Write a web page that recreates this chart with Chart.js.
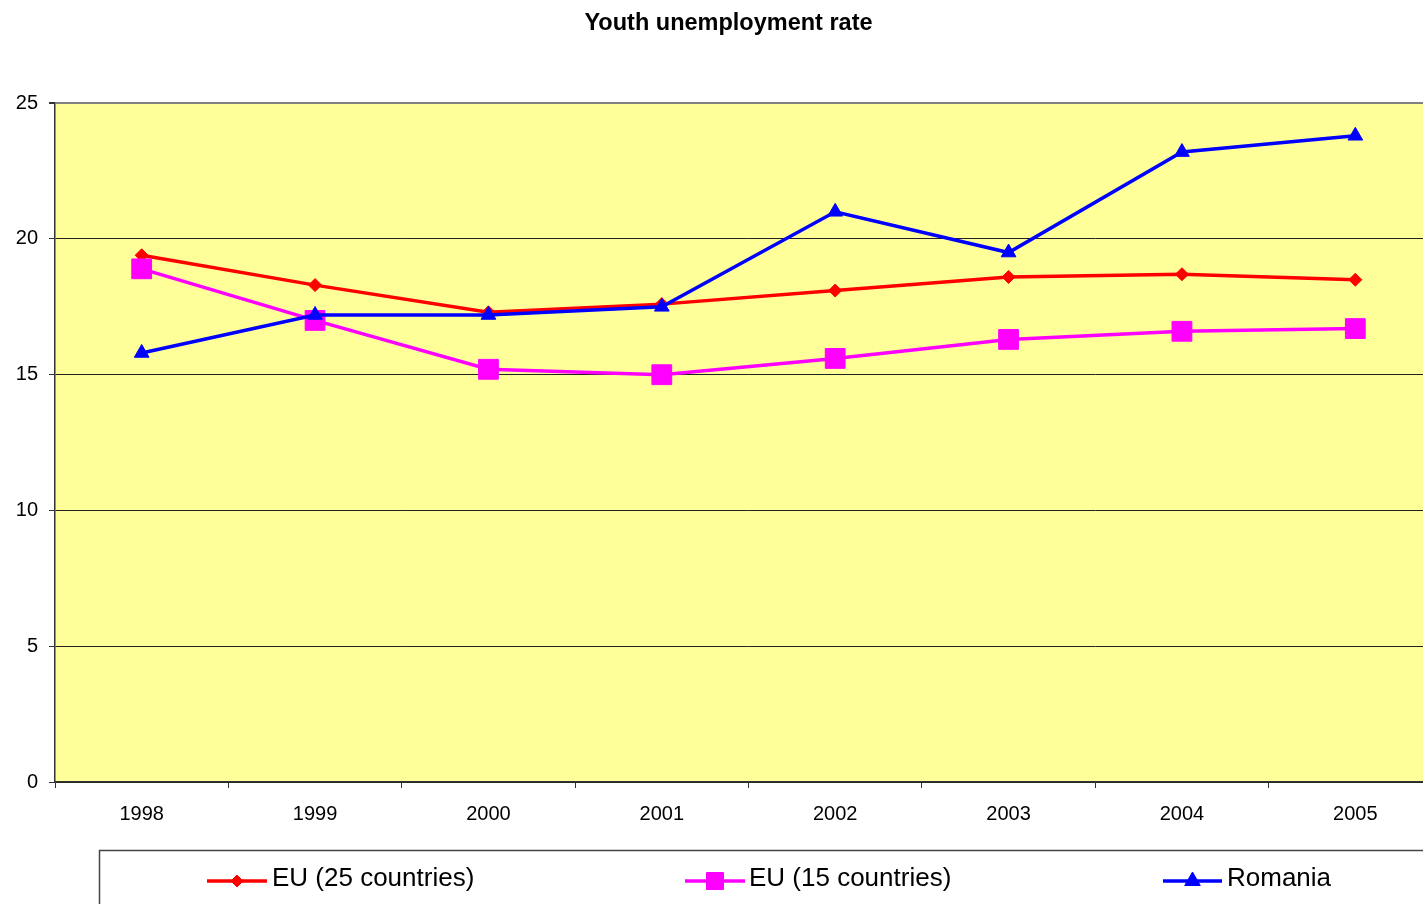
<!DOCTYPE html>
<html>
<head>
<meta charset="utf-8">
<script src="https://cdn.jsdelivr.net/npm/chart.js@4"></script>
<style>
  html, body { margin: 0; padding: 0; background: #fff; overflow: hidden; }
  #wrap { width: 1457px; height: 904px; }
</style>
</head>
<body>
<div id="wrap"><canvas id="c" width="1457" height="904"></canvas></div>
<script>
const titleText = 'Youth unemployment rate';
const years = ['1998', '1999', '2000', '2001', '2002', '2003', '2004', '2005'];
const eu25 = [19.4, 18.3, 17.3, 17.6, 18.1, 18.6, 18.7, 18.5];
const eu15 = [18.9, 17.0, 15.2, 15.0, 15.6, 16.3, 16.6, 16.7];
const romania = [15.8, 17.2, 17.2, 17.5, 21.0, 19.5, 23.2, 23.8];
const seriesNames = ['EU (25 countries)', 'EU (15 countries)', 'Romania'];
const yTicks = [0, 5, 10, 15, 20, 25];

const FONT = '"Liberation Sans", Arial, sans-serif';

const plotBg = {
  id: 'plotBg',
  beforeDraw(chart) {
    const { ctx, chartArea: a } = chart;
    ctx.save();
    ctx.fillStyle = '#FFFF99';
    ctx.fillRect(a.left, a.top, a.right - a.left, a.bottom - a.top);
    ctx.restore();
  }
};

const boxLegend = {
  id: 'boxLegend',
  afterDraw(chart) {
    const ctx = chart.ctx;
    ctx.save();
    ctx.strokeStyle = '#444';
    ctx.lineWidth = 1.5;
    ctx.strokeRect(99.5, 850.5, 1400, 200);
    const items = [
      { x0: 207, x1: 267, tx: 272, r: 6 },
      { x0: 685, x1: 745, tx: 749, r: 12 },
      { x0: 1163, x1: 1222, tx: 1227, r: 9 }
    ];
    chart.data.datasets.forEach((ds, i) => {
      const it = items[i];
      const y = 881;
      ctx.strokeStyle = ds.borderColor;
      ctx.lineWidth = 3.5;
      ctx.beginPath();
      ctx.moveTo(it.x0, y);
      ctx.lineTo(it.x1, y);
      ctx.stroke();
      ctx.fillStyle = ds.backgroundColor;
      ctx.strokeStyle = ds.borderColor;
      ctx.lineWidth = 1;
      Chart.helpers.drawPoint(ctx, { pointStyle: ds.pointStyle, radius: it.r, borderWidth: 1, rotation: 0 }, (it.x0 + it.x1) / 2, y);
      ctx.fillStyle = '#000';
      ctx.font = '26px ' + FONT;
      ctx.textBaseline = 'alphabetic';
      ctx.textAlign = 'left';
      ctx.fillText(ds.label, it.tx, 886);
    });
    ctx.restore();
  }
};

new Chart(document.getElementById('c'), {
  type: 'line',
  data: {
    labels: years,
    datasets: [
      { label: seriesNames[0], data: eu25, borderColor: '#FF0000', backgroundColor: '#FF0000',
        pointStyle: 'rectRot', pointRadius: 6.5, pointBorderWidth: 1, borderWidth: 3.5, order: 3 },
      { label: seriesNames[1], data: eu15, borderColor: '#FF00FF', backgroundColor: '#FF00FF',
        pointStyle: 'rect', pointRadius: 14, pointBorderWidth: 1, borderWidth: 3.5, order: 2 },
      { label: seriesNames[2], data: romania, borderColor: '#0000FF', backgroundColor: '#0000FF',
        pointStyle: 'triangle', pointRadius: 8.5, pointBorderWidth: 1, borderWidth: 3.5, order: 1 }
    ]
  },
  options: {
    responsive: false,
    animation: false,
    layout: { padding: { left: 0, right: 0, top: 0, bottom: 0 } },
    elements: { line: { tension: 0 } },
    plugins: {
      legend: { display: false },
      tooltip: { enabled: false },
      title: {
        display: true,
        text: titleText,
        color: '#000',
        font: { family: FONT, size: 23.5, weight: 'bold', lineHeight: 1.2 },
        padding: { top: 9, bottom: 66 }
      }
    },
    scales: {
      x: {
        type: 'category',
        offset: true,
        grid: { display: true, offset: true, drawOnChartArea: false, drawTicks: true, tickLength: 6, color: '#333', tickColor: '#333' },
        border: { display: true, color: '#333', width: 1.5 },
        ticks: { color: '#000', font: { family: FONT, size: 20 }, padding: 14, maxRotation: 0, autoSkip: false },
        afterFit(s) { s.height = 122; }
      },
      y: {
        min: 0, max: 25,
        afterBuildTicks(s) { s.ticks = yTicks.map(v => ({ value: v })); },
        grid: {
          color: c => (c.tick && c.tick.value === 25 ? '#808080' : '#222'),
          lineWidth: c => (c.tick && c.tick.value === 25 ? 2 : 1),
          tickColor: '#333', tickLength: 6, drawTicks: true
        },
        border: { display: true, color: '#333', width: 1.5 },
        ticks: { color: '#000', font: { family: FONT, size: 20 }, padding: 11 },
        afterFit(s) { s.width = 55; }
      }
    }
  },
  plugins: [plotBg, boxLegend]
});
</script>
</body>
</html>
